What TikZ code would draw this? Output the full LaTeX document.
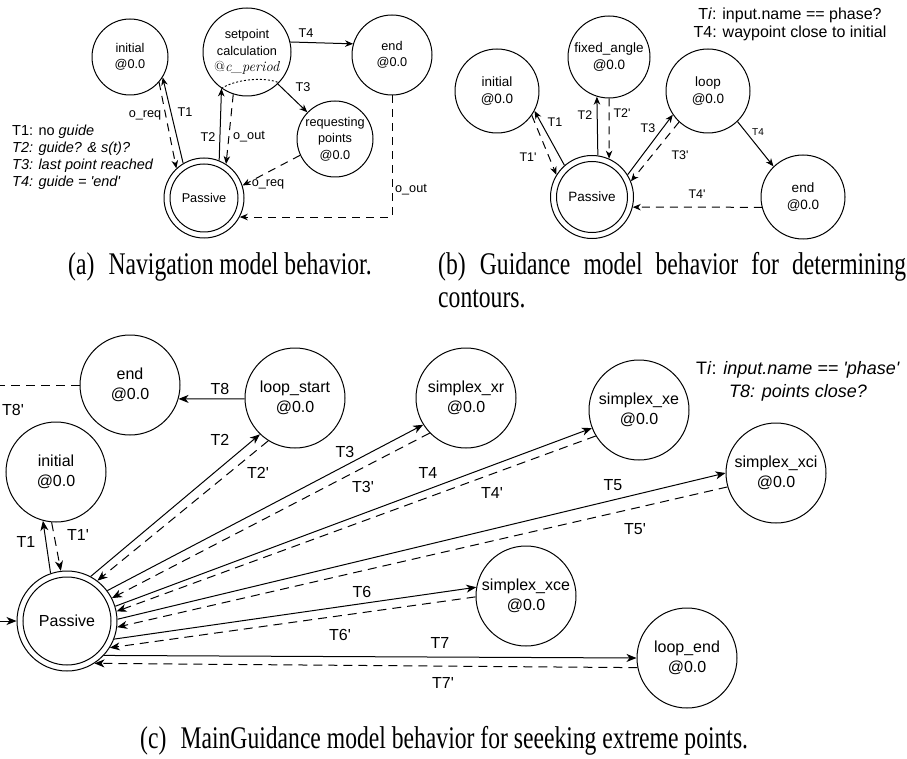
\documentclass[tikz,border=0pt]{standalone}
\usepackage{fontspec}
\setsansfont{Liberation Sans}
\newfontfamily\capfont[FakeStretch=0.75]{Liberation Serif}
\usetikzlibrary{arrows.meta,calc}
\newcommand\apo{\textquotesingle}
\tikzset{
  stA/.style={circle, draw, line width=1pt, inner sep=0pt, align=center, font=\sffamily\fontsize{12.7}{16.5}\selectfont},
  stB/.style={circle, draw, line width=1pt, inner sep=0pt, align=center, font=\sffamily\fontsize{13.5}{17.5}\selectfont},
  stC/.style={circle, draw, line width=1pt, inner sep=0pt, align=center, minimum size=100pt, font=\sffamily\fontsize{16}{19.5}\selectfont},
  lblA/.style={inner sep=0pt, font=\sffamily\fontsize{12.7}{15}\selectfont},
  lblB/.style={inner sep=0pt, font=\sffamily\fontsize{12.5}{15}\selectfont},
  lblC/.style={inner sep=0pt, font=\sffamily\fontsize{16}{19}\selectfont},
  solA/.style={line width=1pt, -{Stealth[length=8pt,width=6.5pt,inset=2.5pt]}},
  dashA/.style={line width=1pt, dash pattern=on 8pt off 6pt, -{Stealth[length=8pt,width=6.5pt,inset=2.5pt]}},
  solC/.style={line width=1pt, -{Stealth[length=10pt,width=8pt,inset=3pt]}},
  dashC/.style={line width=1pt, dash pattern=on 9pt off 6pt, -{Stealth[length=10pt,width=8pt,inset=3pt]}},
  dashPlain/.style={line width=1pt, dash pattern=on 9pt off 6pt},
  dotcurve/.style={line width=0.9pt, dash pattern=on 2pt off 2pt},
  capt/.style={inner sep=0pt, anchor=base west, font=\capfont\fontsize{31.5}{35}\selectfont},
}
\begin{document}
\begin{tikzpicture}[x=1pt,y=-1pt]
\useasboundingbox (0,0) rectangle (907,759);

% ---------------- panel (a)
\node[stA, minimum size=76pt] (ia) at (130,57) {initial\\@0.0};
\node[stA, minimum size=88pt] (sa) at (247,52) {setpoint\\calculation\\{\rmfamily\fontsize{14.5}{16.5}\selectfont @\textit{c\_period}}};
\node[stA, minimum size=80pt] (ea) at (392,55) {end\\@0.0};
\node[stA, minimum size=76pt] (ra) at (335,139) {requesting\\points\\@0.0};
\node[stA, minimum size=80pt] (pa) at (204,198) {Passive};
\draw[line width=1pt] (pa.center) circle[radius=34pt];

\draw[solA] (pa.121) -- (ia.-32);
\draw[dashA] (ia.-41) -- (pa.133);
\draw[solA] (pa.68) -- (sa.-125);
\draw[dashA] (sa.-108) -- (pa.57);
\draw[dotcurve] (sa.-125) .. controls +(15,-10) and +(-12,-6) .. (sa.-44);
\draw[solA] (sa.13) -- (ea.164);
\draw[solA] (sa.-46) -- (ra.136);
\draw[dashA] (ra.205) -- (pa.18);
\draw[dashA] (ea.south) |- (pa.-28);

\node[lblA] (la1) at (185,112) {T1};
\node[lblA] (la2) at (145,115) {o\_req};
\node[lblA] (la3) at (208,137) {T2};
\node[lblA] (la4) at (249,137) {o\_out};
\node[lblA] (la5) at (306,33) {T4};
\node[lblA] (la6) at (303,87) {T3};
\node[lblA] (la7) at (268,184) {o\_req};
\node[lblA] (la8) at (411,190) {o\_out};

\node[anchor=west, align=left, inner sep=0pt, font=\sffamily\fontsize{14.5}{17}\selectfont] (lega) at (12,157)
  {T1: no \textit{guide}\\\textit{T2: guide? \& s(t)?}\\\textit{T3: last point reached}\\\textit{T4: guide = \apo end\apo}};

% ---------------- panel (b)
\node[stB, minimum size=84pt] (ib) at (497,91) {initial\\@0.0};
\node[stB, minimum size=82pt] (fb) at (609,57) {fixed\_angle\\@0.0};
\node[stB, minimum size=84pt] (lb) at (708,91) {loop\\@0.0};
\node[stB, minimum size=84pt] (eb) at (803,197) {end\\@0.0};
\node[stB, minimum size=83pt] (pb) at (592,197) {Passive};
\draw[line width=1pt] (pb.center) circle[radius=35.5pt];

\draw[solA] (pb.131) -- (ib.-28);
\draw[dashA] (ib.-35) -- (pb.148);
\draw[solA] (pb.82) -- (fb.-107);
\draw[dashA] (fb.-90) -- (pb.66);
\draw[solA] (pb.32) -- (lb.214);
\draw[dashA] (lb.227) -- (pb.22);
\draw[solA] (lb.-46) -- (eb.134);
\draw[dashA] (eb.194) -- (pb.-14);

\node[lblB] (lb1) at (555,122) {T1};
\node[lblB] (lb2) at (528,157) {T1\apo};
\node[lblB] (lb3) at (585,115) {T2};
\node[lblB] (lb4) at (622,113) {T2\apo};
\node[lblB] (lb5) at (648,128) {T3};
\node[lblB] (lb6) at (680,155) {T3\apo};
\node[inner sep=0pt, font=\sffamily\fontsize{10}{12}\selectfont] (lb7) at (758,132) {T4};
\node[lblB] (lb8) at (697,194) {T4\apo};

\node[align=center, inner sep=0pt, font=\sffamily\fontsize{16}{18}\selectfont] (legb) at (790,24)
  {T\textit{i}: input.name == phase?\\T4: waypoint close to initial};

% ---------------- panel (c)
\node[stC] (pc) at (67,621) {Passive};
\draw[line width=1pt] (pc.center) circle[radius=44pt];
\node[stC] (ic) at (56,472) {initial\\@0.0};
\node[stC] (ec) at (130,385) {end\\@0.0};
\node[stC] (ls) at (295,398) {loop\_start\\@0.0};
\node[stC] (sxr) at (466,398) {simplex\_xr\\@0.0};
\node[stC] (sxe) at (639,410) {simplex\_xe\\@0.0};
\node[stC] (sxci) at (776,473) {simplex\_xci\\@0.0};
\node[stC] (sxce) at (526,596) {simplex\_xce\\@0.0};
\node[stC] (le) at (687,658) {loop\_end\\@0.0};

\coordinate (entry) at (0,621);
\coordinate (t8end) at (0,385);
\draw[solC] (entry) -- (pc.west);
\draw[solC] (pc.109.5) -- (ic.-105);
\draw[dashC] (ic.-95) -- (pc.97);
\draw[solC] (pc.62.5) -- (ls.226);
\draw[dashC] (ls.238) -- (pc.53);
\draw[solC] (pc.37) -- (sxr.212.5);
\draw[dashC] (sxr.224) -- (pc.27.5);
\draw[solC] (pc.17.4) -- (sxe.201);
\draw[dashC] (sxe.211) -- (pc.11.7);
\draw[solC] (pc.2.2) -- (sxci.180);
\draw[dashC] (sxci.196) -- (pc.-7.7);
\draw[solC] (pc.-21.6) -- (sxce.170);
\draw[dashC] (sxce.181) -- (pc.-32.8);
\draw[solC] (pc.-43.5) -- (le.180);
\draw[dashC] (le.191.3) -- (pc.-57.5);
\draw[solC] (ls.181) -- (ec.-16);
\draw[dashPlain] (ec.west) -- (t8end);

\node[lblC] (lc1) at (26,542) {T1};
\node[lblC] (lc2) at (78,535) {T1\apo};
\node[lblC] (lc3) at (220,440) {T2};
\node[lblC] (lc4) at (258,473) {T2\apo};
\node[lblC] (lc5) at (345,452) {T3};
\node[lblC] (lc6) at (363,487) {T3\apo};
\node[lblC] (lc7) at (428,473) {T4};
\node[lblC] (lc8) at (492,493) {T4\apo};
\node[lblC] (lc9) at (613,485) {T5};
\node[lblC] (lc10) at (635,529) {T5\apo};
\node[lblC] (lc11) at (362,592) {T6};
\node[lblC] (lc12) at (340,635) {T6\apo};
\node[lblC] (lc13) at (440,643) {T7};
\node[lblC] (lc14) at (443,683) {T7\apo};
\node[lblC] (lc15) at (220,389) {T8};
\node[lblC] (lc16) at (13,410) {T8\apo};

\node[align=center, inner sep=0pt, font=\sffamily\fontsize{18}{23}\selectfont] (legc) at (798,381)
  {T\textit{i}: \textit{input.name == \apo phase\apo}\\\textit{T8: points close?}};

% ---------------- captions
\node[capt] (capa) at (68,275) {(a)\hspace{0.45em}Navigation model behavior.};
\node[capt] (capb) at (438,275) {\makebox[468pt][s]{(b)\hspace{0.45em}Guidance model behavior for determining}};
\node[capt] (capb2) at (438,307) {contours.};
\node[capt] (capc) at (140,748) {(c)\hspace{0.45em}MainGuidance model behavior for seeeking extreme points.};
\end{tikzpicture}
\end{document}
